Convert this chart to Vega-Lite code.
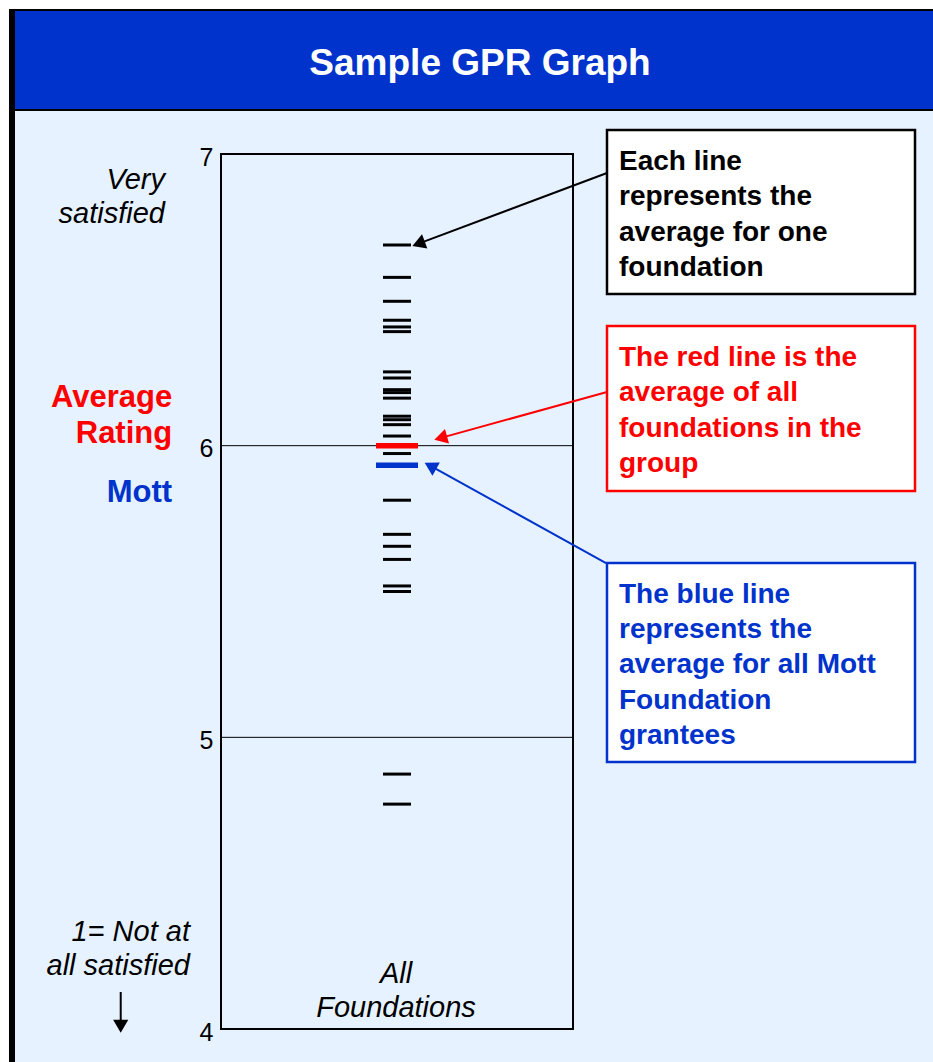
{
  "$schema": "https://vega.github.io/schema/vega-lite/v6.json",
  "width": 352,
  "height": 875,
  "autosize": {"type": "none"},
  "padding": {"left": 221, "top": 154, "right": 360, "bottom": 33},
  "background": "white",
  "config": {
    "view": {"stroke": null},
    "font": "Liberation Sans",
    "axis": {"grid": false, "domain": false, "ticks": false, "labelFontSize": 25, "labelColor": "black", "labelPadding": 8, "labelOffset": 3, "labelFont": "Liberation Sans"}
  },
  "datasets": {
    "panel": [
      {"part": "frame", "x": -0.6023, "x2": 2.2131, "y": 7.4971, "y2": 3.7566},
      {"part": "header", "x": -0.5852, "x2": 2.2131, "y": 7.4903, "y2": 7.1543},
      {"part": "body", "x": -0.5852, "x2": 2.2131, "y": 7.1474, "y2": 3.7566}
    ],
    "foundations": [
      {"score": 6.688}, {"score": 6.577}, {"score": 6.495}, {"score": 6.430}, {"score": 6.407}, {"score": 6.391},
      {"score": 6.253}, {"score": 6.232}, {"score": 6.192}, {"score": 6.182}, {"score": 6.163}, {"score": 6.101},
      {"score": 6.089}, {"score": 6.072}, {"score": 6.033}, {"score": 5.973}, {"score": 5.813}, {"score": 5.696},
      {"score": 5.655}, {"score": 5.610}, {"score": 5.519}, {"score": 5.500}, {"score": 4.874}, {"score": 4.771}
    ],
    "averages": [
      {"group": "All foundations", "score": 6.0},
      {"group": "Mott", "score": 5.933}
    ],
    "boxes": [
      {"group": "Foundation", "x": 1.0966, "x2": 1.9716, "y": 7.0823, "y2": 6.52, "tx": 1.1307, "ty": 6.9451, "t": "Each line\nrepresents the\naverage for one\nfoundation"},
      {"group": "All foundations", "x": 1.0966, "x2": 1.9716, "y": 6.4103, "y2": 5.8446, "tx": 1.1307, "ty": 6.2731, "t": "The red line is the\naverage of all\nfoundations in the\ngroup"},
      {"group": "Mott", "x": 1.0966, "x2": 1.9716, "y": 5.5977, "y2": 4.9154, "tx": 1.1307, "ty": 5.4616, "t": "The blue line\nrepresents the\naverage for all Mott\nFoundation\ngrantees"}
    ],
    "arrows": [
      {"id": "a1", "group": "Foundation", "x": 1.0966, "y": 6.9349},
      {"id": "a1", "group": "Foundation", "x": 0.5670, "y": 6.6952},
      {"id": "a2", "group": "All foundations", "x": 1.0966, "y": 6.1840},
      {"id": "a2", "group": "All foundations", "x": 0.6301, "y": 6.0284},
      {"id": "a3", "group": "Mott", "x": 1.0938, "y": 5.5977},
      {"id": "a3", "group": "Mott", "x": 0.6003, "y": 5.9272},
      {"id": "a4", "group": "Foundation", "x": -0.2849, "y": 4.1269},
      {"id": "a4", "group": "Foundation", "x": -0.2849, "y": 4.0240}
    ],
    "heads": [
      {"group": "Foundation", "x": 0.5670, "y": 6.6952, "angle": 249.4},
      {"group": "All foundations", "x": 0.6301, "y": 6.0284, "angle": 254.6},
      {"group": "Mott", "x": 0.6003, "y": 5.9272, "angle": 299},
      {"group": "Foundation", "x": -0.2849, "y": 4.0171, "angle": 180}
    ]
  },
  "layer": [
    {
      "data": {"name": "panel"},
      "transform": [{"filter": "datum.part == 'frame'"}],
      "mark": {"type": "rect", "color": "#000000"},
      "encoding": {
        "x": {"field": "x", "type": "quantitative", "scale": {"domain": [0, 1], "nice": false, "zero": false}, "axis": null},
        "x2": {"field": "x2"},
        "y": {"field": "y", "type": "quantitative", "scale": {"domain": [4, 7], "nice": false, "zero": false}, "axis": {"values": [4, 5, 6, 7], "format": "d", "title": null, "zindex": 2, "labelFontSize": 25, "labelColor": "black"}},
        "y2": {"field": "y2"}
      }
    },
    {
      "data": {"name": "panel"},
      "transform": [{"filter": "datum.part == 'header'"}],
      "mark": {"type": "rect", "color": "#0033CC"},
      "encoding": {
        "x": {"field": "x", "type": "quantitative", "scale": {"domain": [0, 1], "nice": false, "zero": false}, "axis": null},
        "x2": {"field": "x2"},
        "y": {"field": "y", "type": "quantitative", "scale": {"domain": [4, 7], "nice": false, "zero": false}, "axis": {"values": [4, 5, 6, 7], "format": "d", "title": null, "zindex": 2, "labelFontSize": 25, "labelColor": "black"}},
        "y2": {"field": "y2"}
      }
    },
    {
      "data": {"name": "panel"},
      "transform": [{"filter": "datum.part == 'body'"}],
      "mark": {"type": "rect", "color": "#E6F2FF"},
      "encoding": {
        "x": {"field": "x", "type": "quantitative", "scale": {"domain": [0, 1], "nice": false, "zero": false}, "axis": null},
        "x2": {"field": "x2"},
        "y": {"field": "y", "type": "quantitative", "scale": {"domain": [4, 7], "nice": false, "zero": false}, "axis": {"values": [4, 5, 6, 7], "format": "d", "title": null, "zindex": 2, "labelFontSize": 25, "labelColor": "black"}},
        "y2": {"field": "y2"}
      }
    },
    {
      "data": {"values": [{"t": "Sample GPR Graph", "x": 0.7358, "y": 7.2709}]},
      "mark": {"type": "text", "fontSize": 37, "fontWeight": "bold", "color": "white", "align": "center", "baseline": "alphabetic"},
      "encoding": {
        "x": {"field": "x", "type": "quantitative", "scale": {"domain": [0, 1], "nice": false, "zero": false}, "axis": null},
        "y": {"field": "y", "type": "quantitative", "scale": {"domain": [4, 7], "nice": false, "zero": false}, "axis": {"values": [4, 5, 6, 7], "format": "d", "title": null, "zindex": 2, "labelFontSize": 25, "labelColor": "black"}},
        "text": {"field": "t"}
      }
    },
    {
      "data": {"values": [{"v": 5}, {"v": 6}]},
      "mark": {"type": "rule", "color": "black", "strokeWidth": 1},
      "encoding": {
        "x": {"datum": 0, "type": "quantitative", "scale": {"domain": [0, 1], "nice": false, "zero": false}, "axis": null},
        "x2": {"datum": 1},
        "y": {"field": "v", "type": "quantitative", "scale": {"domain": [4, 7], "nice": false, "zero": false}, "axis": {"values": [4, 5, 6, 7], "format": "d", "title": null, "zindex": 2, "labelFontSize": 25, "labelColor": "black"}}
      }
    },
    {
      "data": {"name": "foundations"},
      "mark": {"type": "rule", "color": "black", "strokeWidth": 3},
      "encoding": {
        "x": {"datum": 0.4602, "type": "quantitative", "scale": {"domain": [0, 1], "nice": false, "zero": false}, "axis": null},
        "x2": {"datum": 0.5398},
        "y": {"field": "score", "type": "quantitative", "scale": {"domain": [4, 7], "nice": false, "zero": false}, "axis": {"values": [4, 5, 6, 7], "format": "d", "title": null, "zindex": 2, "labelFontSize": 25, "labelColor": "black"}}
      }
    },
    {
      "data": {"name": "averages"},
      "mark": {"type": "rule", "strokeWidth": 5.5},
      "encoding": {
        "x": {"datum": 0.4403, "type": "quantitative", "scale": {"domain": [0, 1], "nice": false, "zero": false}, "axis": null},
        "x2": {"datum": 0.5597},
        "y": {"field": "score", "type": "quantitative", "scale": {"domain": [4, 7], "nice": false, "zero": false}, "axis": {"values": [4, 5, 6, 7], "format": "d", "title": null, "zindex": 2, "labelFontSize": 25, "labelColor": "black"}},
        "color": {"field": "group", "type": "nominal", "scale": {"domain": ["Foundation", "All foundations", "Mott"], "range": ["#000000", "#FF0000", "#0033CC"]}, "legend": null}
      }
    },
    {
      "data": {"values": [{}]},
      "mark": {"type": "rect", "filled": false, "color": "black", "strokeWidth": 2},
      "encoding": {
        "x": {"datum": 0, "type": "quantitative", "scale": {"domain": [0, 1], "nice": false, "zero": false}, "axis": null},
        "x2": {"datum": 1},
        "y": {"datum": 4, "type": "quantitative", "scale": {"domain": [4, 7], "nice": false, "zero": false}, "axis": {"values": [4, 5, 6, 7], "format": "d", "title": null, "zindex": 2, "labelFontSize": 25, "labelColor": "black"}},
        "y2": {"datum": 7}
      }
    },
    {
      "data": {"name": "boxes"},
      "mark": {"type": "rect", "fill": "white", "strokeWidth": 2.5},
      "encoding": {
        "x": {"field": "x", "type": "quantitative", "scale": {"domain": [0, 1], "nice": false, "zero": false}, "axis": null},
        "x2": {"field": "x2"},
        "y": {"field": "y", "type": "quantitative", "scale": {"domain": [4, 7], "nice": false, "zero": false}, "axis": {"values": [4, 5, 6, 7], "format": "d", "title": null, "zindex": 2, "labelFontSize": 25, "labelColor": "black"}},
        "y2": {"field": "y2"},
        "stroke": {"field": "group", "type": "nominal", "scale": {"domain": ["Foundation", "All foundations", "Mott"], "range": ["#000000", "#FF0000", "#0033CC"]}, "legend": null}
      }
    },
    {
      "data": {"name": "boxes"},
      "mark": {"type": "text", "fontSize": 28, "fontWeight": "bold", "align": "left", "baseline": "alphabetic", "lineBreak": "\n", "lineHeight": 35.3},
      "encoding": {
        "x": {"field": "tx", "type": "quantitative", "scale": {"domain": [0, 1], "nice": false, "zero": false}, "axis": null},
        "y": {"field": "ty", "type": "quantitative", "scale": {"domain": [4, 7], "nice": false, "zero": false}, "axis": {"values": [4, 5, 6, 7], "format": "d", "title": null, "zindex": 2, "labelFontSize": 25, "labelColor": "black"}},
        "text": {"field": "t"},
        "color": {"field": "group", "type": "nominal", "scale": {"domain": ["Foundation", "All foundations", "Mott"], "range": ["#000000", "#FF0000", "#0033CC"]}, "legend": null}
      }
    },
    {
      "data": {"name": "arrows"},
      "mark": {"type": "line", "strokeWidth": 2},
      "encoding": {
        "x": {"field": "x", "type": "quantitative", "scale": {"domain": [0, 1], "nice": false, "zero": false}, "axis": null},
        "y": {"field": "y", "type": "quantitative", "scale": {"domain": [4, 7], "nice": false, "zero": false}, "axis": {"values": [4, 5, 6, 7], "format": "d", "title": null, "zindex": 2, "labelFontSize": 25, "labelColor": "black"}},
        "detail": {"field": "id"},
        "color": {"field": "group", "type": "nominal", "scale": {"domain": ["Foundation", "All foundations", "Mott"], "range": ["#000000", "#FF0000", "#0033CC"]}, "legend": null}
      }
    },
    {
      "data": {"name": "heads"},
      "mark": {"type": "point", "shape": "triangle", "filled": true, "opacity": 1, "size": 230},
      "encoding": {
        "x": {"field": "x", "type": "quantitative", "scale": {"domain": [0, 1], "nice": false, "zero": false}, "axis": null},
        "y": {"field": "y", "type": "quantitative", "scale": {"domain": [4, 7], "nice": false, "zero": false}, "axis": {"values": [4, 5, 6, 7], "format": "d", "title": null, "zindex": 2, "labelFontSize": 25, "labelColor": "black"}},
        "angle": {"field": "angle", "type": "quantitative", "scale": {"domain": [0, 360], "range": [0, 360]}, "legend": null},
        "color": {"field": "group", "type": "nominal", "scale": {"domain": ["Foundation", "All foundations", "Mott"], "range": ["#000000", "#FF0000", "#0033CC"]}, "legend": null}
      }
    },
    {
      "data": {"values": [
        {"t": "Very\nsatisfied", "x": -0.1591, "y": 6.88},
        {"t": "1= Not at\nall satisfied", "x": -0.0881, "y": 4.3017}
      ]},
      "mark": {"type": "text", "fontSize": 29, "fontStyle": "italic", "color": "black", "align": "right", "baseline": "alphabetic", "lineBreak": "\n", "lineHeight": 34},
      "encoding": {
        "x": {"field": "x", "type": "quantitative", "scale": {"domain": [0, 1], "nice": false, "zero": false}, "axis": null},
        "y": {"field": "y", "type": "quantitative", "scale": {"domain": [4, 7], "nice": false, "zero": false}, "axis": {"values": [4, 5, 6, 7], "format": "d", "title": null, "zindex": 2, "labelFontSize": 25, "labelColor": "black"}},
        "text": {"field": "t"}
      }
    },
    {
      "data": {"values": [{"t": "All\nFoundations", "x": 0.4972, "y": 4.1588}]},
      "mark": {"type": "text", "fontSize": 29, "fontStyle": "italic", "color": "black", "align": "center", "baseline": "alphabetic", "lineBreak": "\n", "lineHeight": 34.6},
      "encoding": {
        "x": {"field": "x", "type": "quantitative", "scale": {"domain": [0, 1], "nice": false, "zero": false}, "axis": null},
        "y": {"field": "y", "type": "quantitative", "scale": {"domain": [4, 7], "nice": false, "zero": false}, "axis": {"values": [4, 5, 6, 7], "format": "d", "title": null, "zindex": 2, "labelFontSize": 25, "labelColor": "black"}},
        "text": {"field": "t"}
      }
    },
    {
      "data": {"values": [
        {"group": "All foundations", "t": "Average\nRating", "x": -0.1387, "y": 6.1336},
        {"group": "Mott", "t": "Mott", "x": -0.1387, "y": 5.8079}
      ]},
      "mark": {"type": "text", "fontSize": 31, "fontWeight": "bold", "align": "right", "baseline": "alphabetic", "lineBreak": "\n", "lineHeight": 36.6},
      "encoding": {
        "x": {"field": "x", "type": "quantitative", "scale": {"domain": [0, 1], "nice": false, "zero": false}, "axis": null},
        "y": {"field": "y", "type": "quantitative", "scale": {"domain": [4, 7], "nice": false, "zero": false}, "axis": {"values": [4, 5, 6, 7], "format": "d", "title": null, "zindex": 2, "labelFontSize": 25, "labelColor": "black"}},
        "text": {"field": "t"},
        "color": {"field": "group", "type": "nominal", "scale": {"domain": ["Foundation", "All foundations", "Mott"], "range": ["#000000", "#FF0000", "#0033CC"]}, "legend": null}
      }
    }
  ]
}
